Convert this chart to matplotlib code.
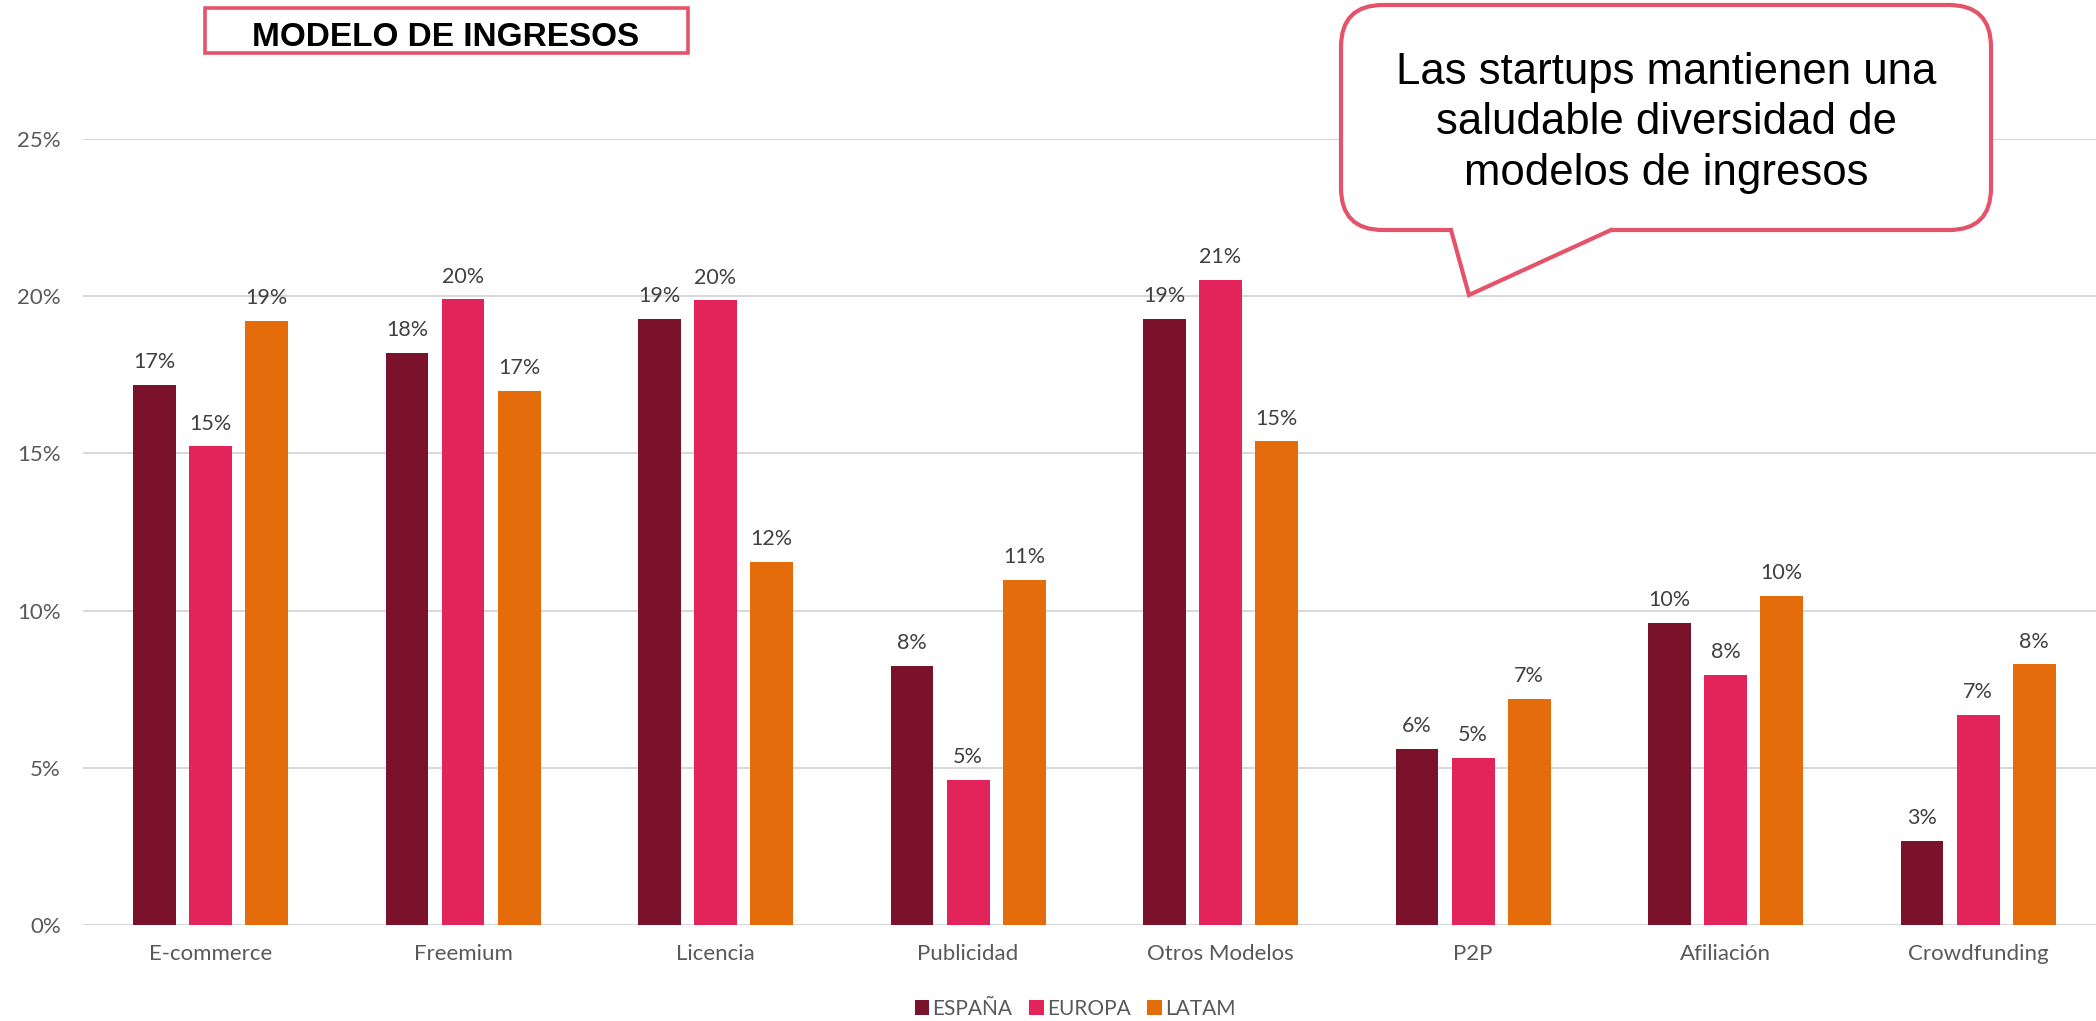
import numpy as np
import matplotlib.pyplot as plt
from matplotlib.patches import FancyBboxPatch, Rectangle, Polygon

# data (percent of startups)
categorias = ['E-commerce', 'Freemium', 'Licencia', 'Publicidad',
              'Otros Modelos', 'P2P', 'Afiliación', 'Crowdfunding']
espana = [17.18, 18.2, 19.27, 8.25, 19.27, 5.61, 9.61, 2.68]
europa = [15.22, 19.9, 19.87, 4.61, 20.52, 5.31, 7.95, 6.68]
latam = [19.22, 17.0, 11.56, 10.97, 15.38, 7.19, 10.46, 8.29]
series = ['ESPAÑA', 'EUROPA', 'LATAM']
colores = ['#7B122B', '#E2245A', '#E46C0A']
yticks = [0, 5, 10, 15, 20, 25]

W, H = 2096, 1021
fig = plt.figure(figsize=(W / 100, H / 100), dpi=100)
plt.rcParams['font.family'] = ['Lato', 'DejaVu Sans']

ax = fig.add_axes([83 / W, 1 - 925 / H, 1 - 83 / W, (925 - 139) / H])
x = np.arange(len(categorias))
step, width = 0.222, 0.17
for i, (vals, name, col) in enumerate(zip([espana, europa, latam], series, colores)):
    pos = x + (i - 1) * step
    ax.bar(pos, vals, width, color=col, label=name, zorder=2)
    for px_, v in zip(pos, vals):
        ax.annotate(f"{int(v + 0.5)}%", (px_, v), xytext=(0, 12),
                    textcoords='offset points', ha='center', va='baseline',
                    fontsize=15.5, color='#404040')

ax.set_xlim(-0.505, 7.467)
ax.set_ylim(0, 25)
ax.set_yticks(yticks)
ax.set_yticklabels([f"{t}%" for t in yticks])
ax.set_xticks(x)
ax.set_xticklabels(categorias)
ax.tick_params(axis='both', length=0, labelsize=16, labelcolor='#595959')
ax.tick_params(axis='y', pad=16)
ax.tick_params(axis='x', pad=14)
ax.yaxis.grid(True, color='#D9D9D9', linewidth=1.5, zorder=0)
ax.set_axisbelow(True)
for s in ax.spines.values():
    s.set_visible(False)

fig.legend(loc='center', bbox_to_anchor=(0.513, 0.012), ncol=3, frameon=False,
           fontsize=15, labelcolor='#595959', handlelength=0.7, handleheight=0.7,
           handletextpad=0.15, columnspacing=0.8, borderpad=0)

# overlay in pixel units for the title box and the callout
ov = fig.add_axes([0, 0, 1, 1])
ov.set_xlim(0, W)
ov.set_ylim(H, 0)
ov.axis('off')
ov.patch.set_alpha(0)

rojo = '#E5536A'
ov.add_patch(Rectangle((205, 8), 483, 45, facecolor='white', edgecolor=rojo,
                       linewidth=2.6, zorder=3))
ov.text(446, 45.5, 'MODELO DE INGRESOS', ha='center', va='baseline',
        fontsize=24, fontweight='bold', family='Liberation Sans', color='black', zorder=4)

ov.add_patch(FancyBboxPatch((1341, 5), 650, 225,
                            boxstyle='round,pad=0,rounding_size=42',
                            facecolor='white', edgecolor=rojo, linewidth=3, zorder=3))
ov.add_patch(Polygon([(1447, 222), (1451, 230), (1469, 295), (1611, 230), (1617, 222)],
                     closed=True, facecolor='white', edgecolor='none', zorder=4))
ov.plot([1451, 1469, 1611], [230, 295, 230], color=rojo, linewidth=3,
        solid_joinstyle='miter', zorder=5)
lineas = ['Las startups mantienen una', 'saludable diversidad de', 'modelos de ingresos']
for k, t in enumerate(lineas):
    ov.text(1666, 84 + k * 50.5, t, ha='center', va='baseline', fontsize=31.5,
            family='Liberation Sans', color='black', zorder=6)

fig.savefig('out.png', dpi=100)
